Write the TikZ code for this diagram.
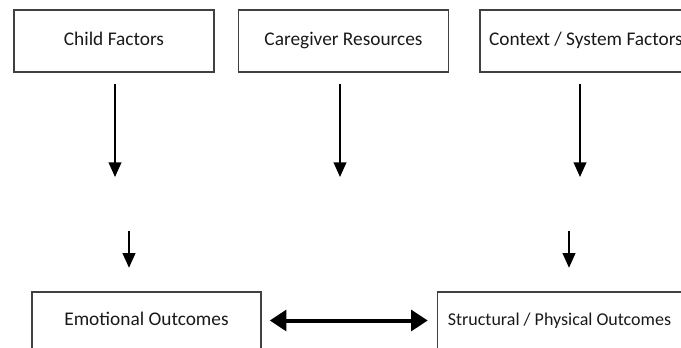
\documentclass[tikz,border=0pt]{standalone}
\usepackage{fontspec}
\setmainfont{Carlito}
\usetikzlibrary{arrows.meta, positioning}
\tikzset{
	node distance = 1.5em,
	font = \fontsize{14.5}{17}\selectfont,
	factor/.style={
		draw=black!75,
		line width=1.1pt,
		minimum height=46.5pt,
		text height=9.8pt,
		text depth=2.6pt,
		inner sep=2pt,
		text=black!90
	},
	outcome/.style={
		factor,
		minimum height=42.75pt
	},
	flow/.style={
		-{Triangle[length=11pt, width=9.5pt]},
		line width=1.4pt
	},
	link/.style={
		{Triangle[length=12.5pt, width=15.5pt]}-{Triangle[length=12.5pt, width=15.5pt]},
		line width=3pt
	}
}

\begin{document}
\begin{tikzpicture}[x=0.75pt, y=-0.75pt]
		\clip (0,0) rectangle (681,347);

		% top row
		\node[factor, minimum width=150pt] at (114,41) (child) {Child Factors};
		\node[factor, minimum width=157.5pt, right=17.25pt of child] (care) {Caregiver Resources};
		\node[factor, minimum width=159pt, right=22.5pt of care] (context) {Context / System Factors};

		% bottom row
		\node[outcome, minimum width=171.75pt] at (146.5,320.5) (emo) {Emotional Outcomes};
		\node[outcome, minimum width=183pt, right=131.25pt of emo,
			font=\fontsize{13.5}{16}\selectfont] (struct) {Structural / Physical Outcomes};

		\coordinate (child-end) at (115,177);
		\coordinate (care-end) at (340,177);
		\coordinate (context-end) at (580,177);
		\foreach \src in {child, care, context} {
			\draw[flow, shorten <=8.25pt] (\src.south -| \src-end) -- (\src-end);
		}

		\coordinate (emo-start) at (129,231);
		\coordinate (struct-start) at (569,231);
		\foreach \dst in {emo, struct} {
			\draw[flow, shorten >=17.6pt] (\dst-start) -- (\dst-start |- \dst.north);
		}

		\draw[link, shorten <=6pt, shorten >=6.75pt] (emo) -- (struct);
	\end{tikzpicture}
\end{document}
